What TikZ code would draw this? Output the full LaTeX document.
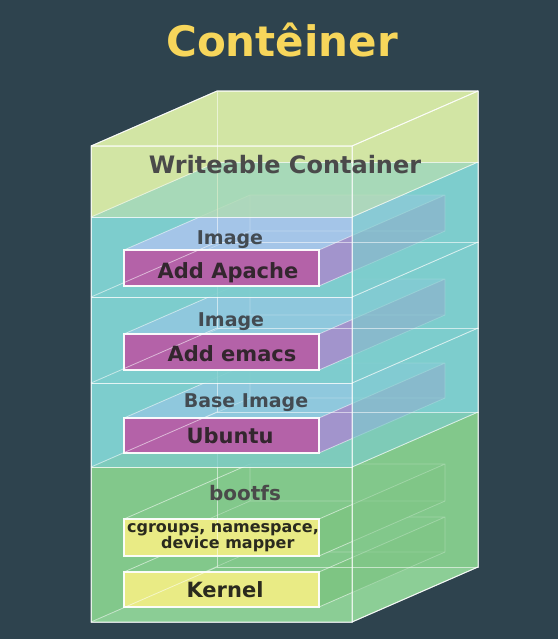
\documentclass[tikz,border=0pt]{standalone}
\usepackage{fontspec}
\setmainfont{DejaVu Sans}
\definecolor{bg}{HTML}{2E434E}
\definecolor{wcol}{HTML}{D2E5A4}
\definecolor{tcol}{HTML}{7DCDCD}
\definecolor{gcol}{HTML}{82C88B}
\definecolor{gbot}{HTML}{9AD6A4}
\definecolor{gslab}{HTML}{7EC583}
\definecolor{purp}{HTML}{B462A8}
\definecolor{lav}{HTML}{A294CC}
\definecolor{bluetop}{HTML}{A4C5E8}
\definecolor{tealtop}{HTML}{8FC8DD}
\definecolor{yel}{HTML}{E9EB85}
\definecolor{titlecol}{HTML}{F7D65B}
\definecolor{txtgrey}{HTML}{4A4A4A}
\definecolor{txtimg}{HTML}{434B52}
\definecolor{txtdark}{HTML}{33262E}
\definecolor{txtkern}{HTML}{2A2A1E}
\tikzset{
  lyedge/.style={draw=white, draw opacity=0.55, line width=0.8pt},
  hidedge/.style={draw=white, draw opacity=0.3, line width=0.7pt},
  outeredge/.style={draw=white, draw opacity=0.85, line width=1pt},
  slabborder/.style={draw=white, draw opacity=0.95, line width=1.3pt},
  lbl/.style={inner sep=0pt, anchor=base, font=\bfseries\fontsize{#1}{#1}\selectfont},
}
% layer: left+back faces (opaque)
\newcommand\LBack[3]{%
  \fill[#3] (91,#1) -- (217,{#1-55}) -- (478,{#1-55}) -- (478,{#2-55}) -- (217,{#2-55}) -- (91,#2) -- cycle;}
\newcommand\LFront[4]{%
  \fill[#3, fill opacity=#4] (91,#1) rectangle (352,#2);}
\newcommand\LRT[4]{%
  \fill[#3, fill opacity=#4] (352,#1) -- (478,{#1-55}) -- (478,{#2-55}) -- (352,#2) -- cycle;
  \fill[#3, fill opacity=#4] (91,#1) -- (352,#1) -- (478,{#1-55}) -- (217,{#1-55}) -- cycle;}
\newcommand\LEdges[2]{%
  \draw[lyedge] (91,#1) rectangle (352,#2);
  \draw[lyedge] (217,{#1-55}) rectangle (478,{#2-55});
  \draw[lyedge] (91,#1) -- (217,{#1-55}) (352,#1) -- (478,{#1-55})
                (352,#2) -- (478,{#2-55}) (91,#2) -- (217,{#2-55});}
% slab: top bottom frontcol topcol rightcol
\newcommand\Slab[5]{%
  \fill[#4] (124,#1) -- (319,#1) -- (445,{#1-55}) -- (250,{#1-55}) -- cycle;
  \fill[#5] (319,#1) -- (445,{#1-55}) -- (445,{#2-55}) -- (319,#2) -- cycle;
  \draw[hidedge] (250,{#1-55}) -- (250,{#2-55}) -- (445,{#2-55}) (124,#2) -- (250,{#2-55});
  \draw[lyedge] (124,#1) -- (250,{#1-55}) -- (445,{#1-55}) -- (445,{#2-55}) -- (319,#2)
                (319,#1) -- (445,{#1-55});
  \fill[#3] (124,#1) rectangle (319,#2);
  \draw[slabborder] (124,#1) rectangle (319,#2);}
\begin{document}
\begin{tikzpicture}[x=1pt,y=-1pt]
\useasboundingbox (0,0) rectangle (558,639);
\fill[bg] (0,0) rectangle (558,639);

% ---- L0 bootfs (467-622)
\LBack{467}{622}{gcol}
\fill[gbot] (91,622) -- (352,622) -- (478,567) -- (217,567) -- cycle;
\LFront{467}{622}{gcol}{0.6}
\Slab{572}{607}{yel}{gcol}{gslab}
\Slab{519}{556}{yel}{gcol}{gslab}
\LRT{467}{622}{gcol}{0.55}
\LEdges{467}{622}

% ---- L1 Ubuntu (383-467)
\LBack{383}{467}{tcol}
\LFront{383}{467}{tcol}{0.75}
\Slab{418}{453}{purp}{tealtop}{lav}
\LRT{383}{467}{tcol}{0.68}
\LEdges{383}{467}

% ---- L2 emacs (297-383)
\LBack{297}{383}{tcol}
\LFront{297}{383}{tcol}{0.75}
\Slab{334}{370}{purp}{tealtop}{lav}
\LRT{297}{383}{tcol}{0.68}
\LEdges{297}{383}

% ---- L3 Apache (217-297)
\LBack{217}{297}{tcol}
\LFront{217}{297}{tcol}{0.75}
\Slab{250}{286}{purp}{bluetop}{lav}
\LRT{217}{297}{tcol}{0.68}
\LEdges{217}{297}

% ---- L4 writeable (146-217)
\LBack{146}{217}{wcol}
\LFront{146}{217}{wcol}{0.5}
\LRT{146}{217}{wcol}{0.5}
\LEdges{146}{217}

% outer outline
\draw[outeredge] (91,146) -- (217,91) -- (478,91) -- (478,567) -- (352,622) -- (91,622) -- cycle;
\draw[outeredge] (91,146) -- (352,146) -- (478,91) (352,146) -- (352,622);

% ---- texts
\node[lbl=42, text=titlecol] (title) at (282,57) {Contêiner};
\node[lbl=24, text=txtgrey] (writeable) at (285,173) {Writeable Container};
\node[lbl=19, text=txtimg] (img1) at (230,244) {Image};
\node[lbl=21, text=txtdark] (apache) at (228,278) {Add Apache};
\node[lbl=19, text=txtimg] (img2) at (231,326) {Image};
\node[lbl=21, text=txtdark] (emacs) at (232,361) {Add emacs};
\node[lbl=19, text=txtimg] (img3) at (246,407) {Base Image};
\node[lbl=21, text=txtdark] (ubuntu) at (230,443) {Ubuntu};
\node[lbl=20, text=txtgrey] (bootfs) at (245,500) {bootfs};
\node[inner sep=0pt, anchor=center, align=center, text=txtkern,
      font=\bfseries\fontsize{16}{16}\selectfont] (cgroups) at (223,538)
      {cgroups, namespace,\\ \hspace*{0.6em}device mapper};
\node[lbl=21, text=txtkern] (kernel) at (225,597) {Kernel};
\end{tikzpicture}
\end{document}
